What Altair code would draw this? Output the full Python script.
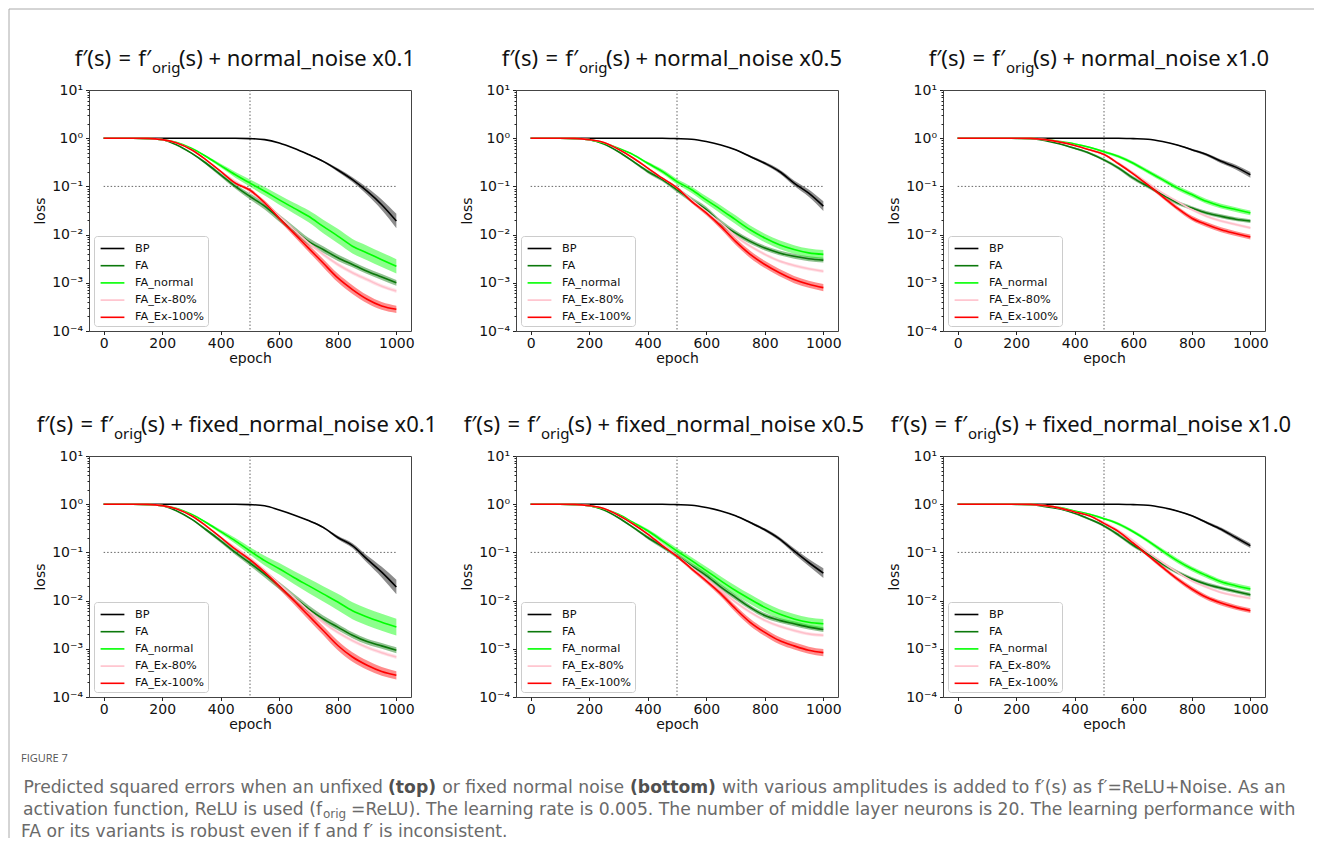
import altair as alt
import pandas as pd

EPOCHS = list(range(0, 1001, 50))
SERIES = ["BP", "FA", "FA_normal", "FA_Ex-80%", "FA_Ex-100%"]
COLORS = ["#000000", "#0b780b", "#00ff00", "#ffc0cb", "#ff0000"]

NOISE = ["normal_noise x0.1", "normal_noise x0.5", "normal_noise x1.0",
         "fixed_normal_noise x0.1", "fixed_normal_noise x0.5", "fixed_normal_noise x1.0"]

# --- loss values (centre of each noisy trace), epochs 0..1000 step 50 ---
p1_BP = [1, 1, 1, 1, 1, 1, 1, 1, 1, 1, 0.98, 0.933, 0.794, 0.617, 0.457, 0.331, 0.219, 0.138, 0.0794, 0.0417, 0.0191]
p1_FA = [1, 1, 1, 0.98, 0.933, 0.724, 0.49, 0.302, 0.174, 0.1, 0.0617, 0.0389, 0.0219, 0.0126, 0.00724, 0.0049, 0.00331, 0.0024, 0.00174, 0.00132, 0.001]
p1_FAn = [1, 1, 1, 0.99, 0.933, 0.813, 0.617, 0.417, 0.269, 0.174, 0.117, 0.0794, 0.0525, 0.0355, 0.024, 0.0148, 0.00933, 0.00575, 0.00417, 0.00302, 0.00219]
p1_E80 = [1, 1, 1, 0.99, 0.933, 0.794, 0.575, 0.355, 0.204, 0.126, 0.0794, 0.0457, 0.024, 0.0126, 0.00676, 0.00389, 0.0024, 0.00162, 0.00117, 0.000851, 0.000676]
p1_E100 = [1, 1, 1, 0.99, 0.933, 0.794, 0.575, 0.355, 0.204, 0.117, 0.0832, 0.0457, 0.0219, 0.0107, 0.00525, 0.00257, 0.00126, 0.000724, 0.000457, 0.000331, 0.000282]

p2_BP = [1, 1, 1, 1, 1, 1, 1, 1, 1, 1, 0.98, 0.95, 0.851, 0.724, 0.575, 0.417, 0.302, 0.204, 0.117, 0.0724, 0.0389]
p2_FA = [1, 1, 1, 0.98, 0.933, 0.759, 0.525, 0.331, 0.204, 0.138, 0.0851, 0.0525, 0.0331, 0.0174, 0.0107, 0.00724, 0.00525, 0.00417, 0.00355, 0.00316, 0.00295]
p2_FAn = [1, 1, 1, 0.99, 0.933, 0.794, 0.617, 0.457, 0.302, 0.204, 0.126, 0.0851, 0.0525, 0.0331, 0.0204, 0.0126, 0.00851, 0.00617, 0.0049, 0.00417, 0.00389]
p2_E80 = [1, 1, 1, 0.99, 0.933, 0.813, 0.589, 0.389, 0.24, 0.148, 0.0933, 0.0525, 0.0302, 0.0174, 0.00933, 0.00575, 0.00389, 0.00282, 0.00229, 0.00195, 0.00174]
p2_E100 = [1, 1, 1, 0.99, 0.933, 0.813, 0.589, 0.389, 0.24, 0.148, 0.0933, 0.049, 0.0282, 0.0148, 0.00724, 0.00389, 0.0024, 0.00162, 0.00117, 0.000933, 0.000794]

p3_BP = [1, 1, 1, 1, 1, 1, 1, 1, 1, 1, 1, 1, 0.98, 0.95, 0.851, 0.724, 0.575, 0.457, 0.331, 0.251, 0.174]
p3_FA = [1, 1, 1, 1, 0.99, 0.98, 0.891, 0.759, 0.617, 0.49, 0.355, 0.24, 0.148, 0.1, 0.0676, 0.0457, 0.0355, 0.0282, 0.024, 0.0209, 0.0191]
p3_FAn = [1, 1, 1, 1, 1, 0.99, 0.933, 0.851, 0.759, 0.646, 0.525, 0.417, 0.302, 0.204, 0.138, 0.0933, 0.0676, 0.049, 0.0389, 0.0331, 0.0282]
p3_E80 = [1, 1, 1, 1, 1, 0.99, 0.933, 0.83, 0.708, 0.575, 0.457, 0.302, 0.191, 0.117, 0.0724, 0.049, 0.0331, 0.024, 0.0191, 0.0162, 0.0138]
p3_E100 = [1, 1, 1, 1, 1, 0.99, 0.933, 0.83, 0.708, 0.575, 0.457, 0.295, 0.182, 0.107, 0.0617, 0.0355, 0.0219, 0.0162, 0.0126, 0.0105, 0.00891]

p4_BP = [1, 1, 1, 1, 1, 1, 1, 1, 1, 1, 0.98, 0.93, 0.759, 0.6, 0.457, 0.331, 0.204, 0.138, 0.0724, 0.0389, 0.0191]
p4_FA = [1, 1, 1, 0.98, 0.933, 0.724, 0.49, 0.295, 0.174, 0.1, 0.0603, 0.0355, 0.0204, 0.0117, 0.00676, 0.00417, 0.00282, 0.00191, 0.00141, 0.00115, 0.000933]
p4_FAn = [1, 1, 1, 0.99, 0.933, 0.813, 0.617, 0.417, 0.269, 0.174, 0.107, 0.0676, 0.0457, 0.0302, 0.0204, 0.0138, 0.00933, 0.00617, 0.00457, 0.00355, 0.00282]
p4_E80 = [1, 1, 1, 0.99, 0.933, 0.794, 0.575, 0.355, 0.204, 0.126, 0.0759, 0.0417, 0.0219, 0.0117, 0.00617, 0.00355, 0.00219, 0.00148, 0.00107, 0.000832, 0.000676]
p4_E100 = [1, 1, 1, 0.99, 0.933, 0.794, 0.575, 0.355, 0.204, 0.117, 0.0708, 0.0389, 0.02, 0.01, 0.0049, 0.0024, 0.00117, 0.000676, 0.000457, 0.000339, 0.000282]

p5_BP = [1, 1, 1, 1, 1, 1, 1, 1, 1, 1, 0.98, 0.95, 0.851, 0.724, 0.575, 0.417, 0.295, 0.191, 0.107, 0.0617, 0.0372]
p5_FA = [1, 1, 1, 0.98, 0.933, 0.759, 0.525, 0.331, 0.204, 0.132, 0.0851, 0.0525, 0.0331, 0.0191, 0.0117, 0.00724, 0.0049, 0.00389, 0.00331, 0.00282, 0.00251]
p5_FAn = [1, 1, 1, 0.99, 0.933, 0.794, 0.617, 0.417, 0.282, 0.174, 0.107, 0.0676, 0.0417, 0.0257, 0.0162, 0.0107, 0.00724, 0.00525, 0.00417, 0.00355, 0.00331]
p5_E80 = [1, 1, 1, 0.99, 0.933, 0.813, 0.589, 0.389, 0.24, 0.148, 0.0851, 0.049, 0.0282, 0.0162, 0.00933, 0.00575, 0.00389, 0.00295, 0.0024, 0.00204, 0.00191]
p5_E100 = [1, 1, 1, 0.99, 0.933, 0.813, 0.589, 0.389, 0.24, 0.138, 0.0832, 0.0457, 0.0257, 0.0138, 0.00676, 0.00355, 0.00219, 0.00148, 0.00115, 0.000933, 0.000832]

p6_BP = [1, 1, 1, 1, 1, 1, 1, 1, 1, 1, 1, 1, 0.98, 0.95, 0.851, 0.724, 0.575, 0.417, 0.302, 0.204, 0.138]
p6_FA = [1, 1, 1, 1, 0.99, 0.98, 0.891, 0.794, 0.646, 0.49, 0.355, 0.229, 0.141, 0.0933, 0.0575, 0.0389, 0.0282, 0.0219, 0.0182, 0.0155, 0.0132]
p6_FAn = [1, 1, 1, 1, 1, 0.99, 0.933, 0.851, 0.724, 0.617, 0.501, 0.389, 0.269, 0.174, 0.107, 0.0676, 0.0457, 0.0331, 0.0245, 0.0204, 0.0174]
p6_E80 = [1, 1, 1, 1, 1, 0.99, 0.933, 0.83, 0.69, 0.575, 0.417, 0.282, 0.174, 0.1, 0.0617, 0.0389, 0.0257, 0.0191, 0.0148, 0.0126, 0.0112]
p6_E100 = [1, 1, 1, 1, 1, 0.99, 0.933, 0.83, 0.69, 0.575, 0.4, 0.269, 0.155, 0.0871, 0.049, 0.0282, 0.0174, 0.0117, 0.00891, 0.00724, 0.00617]

# --- width of the noise fuzz around each trace, in decades (full band), same epochs ---
s1_BP = [0] * 14 + [0.02, 0.04, 0.07, 0.1, 0.15, 0.22, 0.3]
s1_FA = [0] * 6 + [0.03, 0.06, 0.08, 0.1, 0.12, 0.14, 0.15, 0.15, 0.15, 0.14, 0.13, 0.12, 0.12, 0.12, 0.12]
s1_FAn = [0] * 7 + [0.04, 0.08, 0.12, 0.15, 0.18, 0.2, 0.22, 0.25, 0.28, 0.3, 0.3, 0.3, 0.3, 0.3]
s1_E80 = [0] * 8 + [0.04, 0.05, 0.06, 0.07, 0.08, 0.08, 0.08, 0.08, 0.08, 0.08, 0.08, 0.08, 0.08]
s1_E100 = [0] * 8 + [0.03, 0.05, 0.07, 0.09, 0.11, 0.13, 0.15, 0.17, 0.18, 0.18, 0.17, 0.16, 0.15]

s2_BP = [0] * 14 + [0.02, 0.04, 0.06, 0.08, 0.11, 0.15, 0.2]
s2_FA = [0] * 6 + [0.03, 0.05, 0.07, 0.08, 0.1, 0.11, 0.12, 0.12, 0.11, 0.1, 0.1, 0.1, 0.1, 0.1, 0.1]
s2_FAn = [0] * 7 + [0.04, 0.06, 0.09, 0.11, 0.13, 0.15, 0.17, 0.18, 0.18, 0.18, 0.18, 0.18, 0.18, 0.18]
s2_E80 = [0] * 8 + [0.03, 0.04, 0.05, 0.06, 0.07, 0.07, 0.07, 0.07, 0.07, 0.07, 0.07, 0.07, 0.07]
s2_E100 = [0] * 8 + [0.03, 0.04, 0.06, 0.08, 0.1, 0.12, 0.14, 0.15, 0.15, 0.15, 0.15, 0.15, 0.15]

s3_BP = [0] * 15 + [0.02, 0.04, 0.06, 0.08, 0.1, 0.12]
s3_FA = [0] * 7 + [0.02, 0.04, 0.05, 0.06, 0.07, 0.08, 0.08, 0.08, 0.08, 0.08, 0.08, 0.08, 0.08, 0.08]
s3_FAn = [0] * 8 + [0.03, 0.04, 0.05, 0.06, 0.07, 0.08, 0.09, 0.1, 0.1, 0.1, 0.1, 0.1, 0.1]
s3_E80 = [0] * 9 + [0.03, 0.04, 0.05, 0.05, 0.06, 0.06, 0.06, 0.06, 0.06, 0.06, 0.06, 0.06]
s3_E100 = [0] * 9 + [0.03, 0.04, 0.05, 0.06, 0.07, 0.08, 0.09, 0.1, 0.1, 0.1, 0.1, 0.1]

s4_BP = [0] * 14 + [0.02, 0.04, 0.07, 0.1, 0.15, 0.22, 0.3]
s4_FA = [0] * 6 + [0.03, 0.06, 0.08, 0.1, 0.12, 0.14, 0.15, 0.15, 0.15, 0.14, 0.13, 0.12, 0.12, 0.12, 0.12]
s4_FAn = [0] * 7 + [0.04, 0.08, 0.12, 0.16, 0.2, 0.24, 0.27, 0.3, 0.32, 0.34, 0.35, 0.35, 0.35, 0.35]
s4_E80 = [0] * 8 + [0.04, 0.05, 0.06, 0.07, 0.08, 0.08, 0.08, 0.08, 0.08, 0.08, 0.08, 0.08, 0.08]
s4_E100 = [0] * 8 + [0.03, 0.05, 0.07, 0.1, 0.13, 0.15, 0.17, 0.19, 0.2, 0.2, 0.19, 0.18, 0.17]

s5_BP = [0] * 14 + [0.02, 0.04, 0.06, 0.08, 0.11, 0.15, 0.2]
s5_FA = [0] * 6 + [0.03, 0.05, 0.07, 0.08, 0.1, 0.11, 0.12, 0.12, 0.11, 0.1, 0.1, 0.1, 0.1, 0.1, 0.1]
s5_FAn = [0] * 7 + [0.04, 0.07, 0.1, 0.12, 0.14, 0.16, 0.18, 0.2, 0.2, 0.2, 0.2, 0.2, 0.2, 0.2]
s5_E80 = [0] * 8 + [0.03, 0.04, 0.05, 0.06, 0.07, 0.07, 0.07, 0.07, 0.07, 0.07, 0.07, 0.07, 0.07]
s5_E100 = [0] * 8 + [0.03, 0.04, 0.06, 0.08, 0.1, 0.12, 0.14, 0.15, 0.15, 0.15, 0.15, 0.15, 0.15]

s6_BP = [0] * 15 + [0.02, 0.03, 0.05, 0.07, 0.09, 0.1]
s6_FA = [0] * 7 + [0.02, 0.04, 0.05, 0.06, 0.07, 0.08, 0.08, 0.08, 0.08, 0.08, 0.08, 0.08, 0.08, 0.08]
s6_FAn = [0] * 8 + [0.03, 0.04, 0.05, 0.06, 0.07, 0.08, 0.09, 0.1, 0.1, 0.1, 0.1, 0.1, 0.1]
s6_E80 = [0] * 9 + [0.03, 0.04, 0.05, 0.05, 0.06, 0.06, 0.06, 0.06, 0.06, 0.06, 0.06, 0.06]
s6_E100 = [0] * 9 + [0.03, 0.04, 0.05, 0.06, 0.07, 0.08, 0.09, 0.1, 0.1, 0.1, 0.1, 0.1]

PANELS = [
    [p1_BP, p1_FA, p1_FAn, p1_E80, p1_E100],
    [p2_BP, p2_FA, p2_FAn, p2_E80, p2_E100],
    [p3_BP, p3_FA, p3_FAn, p3_E80, p3_E100],
    [p4_BP, p4_FA, p4_FAn, p4_E80, p4_E100],
    [p5_BP, p5_FA, p5_FAn, p5_E80, p5_E100],
    [p6_BP, p6_FA, p6_FAn, p6_E80, p6_E100],
]
SPREADS = [
    [s1_BP, s1_FA, s1_FAn, s1_E80, s1_E100],
    [s2_BP, s2_FA, s2_FAn, s2_E80, s2_E100],
    [s3_BP, s3_FA, s3_FAn, s3_E80, s3_E100],
    [s4_BP, s4_FA, s4_FAn, s4_E80, s4_E100],
    [s5_BP, s5_FA, s5_FAn, s5_E80, s5_E100],
    [s6_BP, s6_FA, s6_FAn, s6_E80, s6_E100],
]

X_TICKS = [0, 200, 400, 600, 800, 1000]
Y_MAJOR = [10, 1, 0.1, 0.01, 0.001, 0.0001]
Y_LABELS = ["10¹", "10⁰", "10⁻¹", "10⁻²", "10⁻³", "10⁻⁴"]
Y_MINOR = [k * m for m in [0.0001, 0.001, 0.01, 0.1, 1] for k in range(2, 10)]

VLINE_EPOCH = [500]
HLINE_LOSS = [0.1]

CAPTION_HEAD = "FIGURE 7"
CAP_L1 = ["Predicted squared errors when an unfixed", "(top)", "or fixed normal noise", "(bottom)",
          "with various amplitudes is added to f′(s) as f′=ReLU+Noise. As an"]
CAP_L2 = ["activation function, ReLU is used (f", "orig",
          "=ReLU). The learning rate is 0.005. The number of middle layer neurons is 20. The learning performance with"]
CAP_L3 = ["FA or its variants is robust even if f and f′ is inconsistent."]

W, H = 322, 241
TICK_FONT = "DejaVu Sans"
TITLE_FONT = "Noto Sans"
CAP_FONT = "DejaVu Sans"

label_expr = " : ".join(
    f"datum.value == {v} ? '{l}'" for v, l in zip(Y_MAJOR, Y_LABELS)
) + " : ''"
major_test = "indexof([" + ",".join(str(v) for v in Y_MAJOR) + "], datum.value) >= 0"

x_scale = alt.Scale(domain=[-50, 1050], nice=False, zero=False)
y_scale = alt.Scale(type="log", domain=[0.0001, 10], nice=False)

x_axis = alt.Axis(values=X_TICKS, format="d", title="epoch", grid=False, domain=False,
                  tickSize=3.5, tickColor="#222", labelFont=TICK_FONT, labelFontSize=14,
                  labelColor="#111", titleFont=TICK_FONT, titleFontSize=14,
                  titleFontWeight="normal", titleColor="#111", labelPadding=2, titlePadding=1)
y_axis = alt.Axis(values=Y_MAJOR + Y_MINOR, title="loss", grid=False, domain=False,
                  labelExpr=label_expr, labelOverlap=False,
                  tickSize={"condition": {"test": major_test, "value": 3.5}, "value": 2},
                  tickColor="#222", labelFont=TICK_FONT, labelFontSize=14, labelColor="#111",
                  titleFont=TICK_FONT, titleFontSize=14, titleFontWeight="normal",
                  titleColor="#111", labelPadding=3, titlePadding=4)

legend = alt.Legend(orient="bottom-left", title=None, offset=5,
                    fillColor="white", strokeColor="#cccccc",
                    cornerRadius=3, padding=3,
                    labelFont=TICK_FONT, labelFontSize=11.3, labelColor="#111",
                    symbolType="M-1.4,0H1.4", symbolSize=289, symbolOpacity=1,
                    symbolStrokeWidth=1.6, symbolOffset=6,
                    labelOffset=13, rowPadding=2.2)


def text_piece(txt, x, y, size, align="left", weight="normal", font=TITLE_FONT, color="#111"):
    return alt.Chart(pd.DataFrame({"t": [txt]})).mark_text(
        align=align, baseline="middle", font=font, fontSize=size, fontWeight=weight, color=color
    ).encode(x=alt.value(x), y=alt.value(y), text="t:N")


def panel(i):
    rows = []
    for s, vals, spr in zip(SERIES, PANELS[i], SPREADS[i]):
        for e, v, d in zip(EPOCHS, vals, spr):
            rows.append({"epoch": e, "loss": v, "series": s,
                         "lo": v * 10 ** (-d / 2), "hi": v * 10 ** (d / 2)})
    df = pd.DataFrame(rows)

    color_scale = alt.Scale(domain=SERIES, range=COLORS)
    lines = alt.Chart(df).mark_line(strokeWidth=1.6, interpolate="monotone").encode(
        x=alt.X("epoch:Q", scale=x_scale, axis=x_axis),
        y=alt.Y("loss:Q", scale=y_scale, axis=y_axis),
        color=alt.Color("series:N", sort=SERIES, scale=color_scale, legend=legend),
    )
    bands = alt.Chart(df).mark_area(opacity=0.45, interpolate="monotone").encode(
        x=alt.X("epoch:Q", scale=x_scale, axis=x_axis),
        y=alt.Y("lo:Q", scale=y_scale, axis=y_axis, stack=None),
        y2="hi:Q",
        color=alt.Color("series:N", sort=SERIES, scale=color_scale, legend=legend),
    )
    vline = alt.Chart(pd.DataFrame({"epoch": VLINE_EPOCH})).mark_rule(
        strokeDash=[1.5, 2], color="#666", strokeWidth=1
    ).encode(x="epoch:Q")
    hline = alt.Chart(pd.DataFrame({"x0": [EPOCHS[0]], "x1": [EPOCHS[-1]], "loss": HLINE_LOSS})).mark_rule(
        strokeDash=[1.5, 2], color="#666", strokeWidth=1
    ).encode(x="x0:Q", x2="x1:Q", y="loss:Q")

    # title with subscript: f'(s) = f'_orig(s) + <noise>
    anchor = 62 if i < 3 else 24
    t1 = text_piece("f′(s)\u2004=\u2004f′", anchor, -31, 22, align="right")
    t2 = text_piece("orig", anchor + 1, -22, 15)
    t3 = text_piece("(s) + " + NOISE[i], anchor + 28, -31, 22)

    layers = [hline, vline, bands, lines, t1, t2, t3]
    if i == 0:
        border_top = alt.Chart(pd.DataFrame({"b": [0]})).mark_rule(color="#aaaaaa", strokeWidth=1).encode(
            x=alt.value(-80), x2=alt.value(1225), y=alt.value(-81))
        border_left = alt.Chart(pd.DataFrame({"b": [0]})).mark_rule(color="#aaaaaa", strokeWidth=1).encode(
            x=alt.value(-80), y=alt.value(-81), y2=alt.value(748))
        layers = [border_top, border_left] + layers
    if i == 3:
        cs, cc, cb = 17.2, "#6a6a6a", "#505050"
        ox = 88
        layers += [
            text_piece(CAPTION_HEAD, -68, 303, 11, font="Open Sans", color="#555555"),
            text_piece(CAP_L1[0], 382 - ox, 332, cs, align="right", font=CAP_FONT, color=cc),
            text_piece(CAP_L1[1], 387 - ox, 332, cs, weight="bold", font=CAP_FONT, color=cb),
            text_piece(CAP_L1[2], 623 - ox, 332, cs, align="right", font=CAP_FONT, color=cc),
            text_piece(CAP_L1[3], 629 - ox, 332, cs, weight="bold", font=CAP_FONT, color=cb),
            text_piece(CAP_L1[4], 721 - ox, 332, cs, font=CAP_FONT, color=cc),
            text_piece(CAP_L2[0], 321 - ox, 354, cs, align="right", font=CAP_FONT, color=cc),
            text_piece(CAP_L2[1], 322 - ox, 358, 12, font=CAP_FONT, color=cc),
            text_piece(CAP_L2[2], 350 - ox, 354, cs, font=CAP_FONT, color=cc),
            text_piece(CAP_L3[0], -68, 376, cs, font=CAP_FONT, color=cc),
        ]
    return alt.layer(*layers).properties(
        width=W, height=H, view=alt.ViewConfig(stroke="#444", strokeWidth=1)
    )


chart = alt.concat(
    *[panel(i) for i in range(6)], columns=3,
    spacing={"row": 125, "column": 105}, bounds="flush"
).resolve_scale(color="independent").properties(padding=0)

chart.save("out.html", embed_options={"renderer": "svg", "actions": False})
